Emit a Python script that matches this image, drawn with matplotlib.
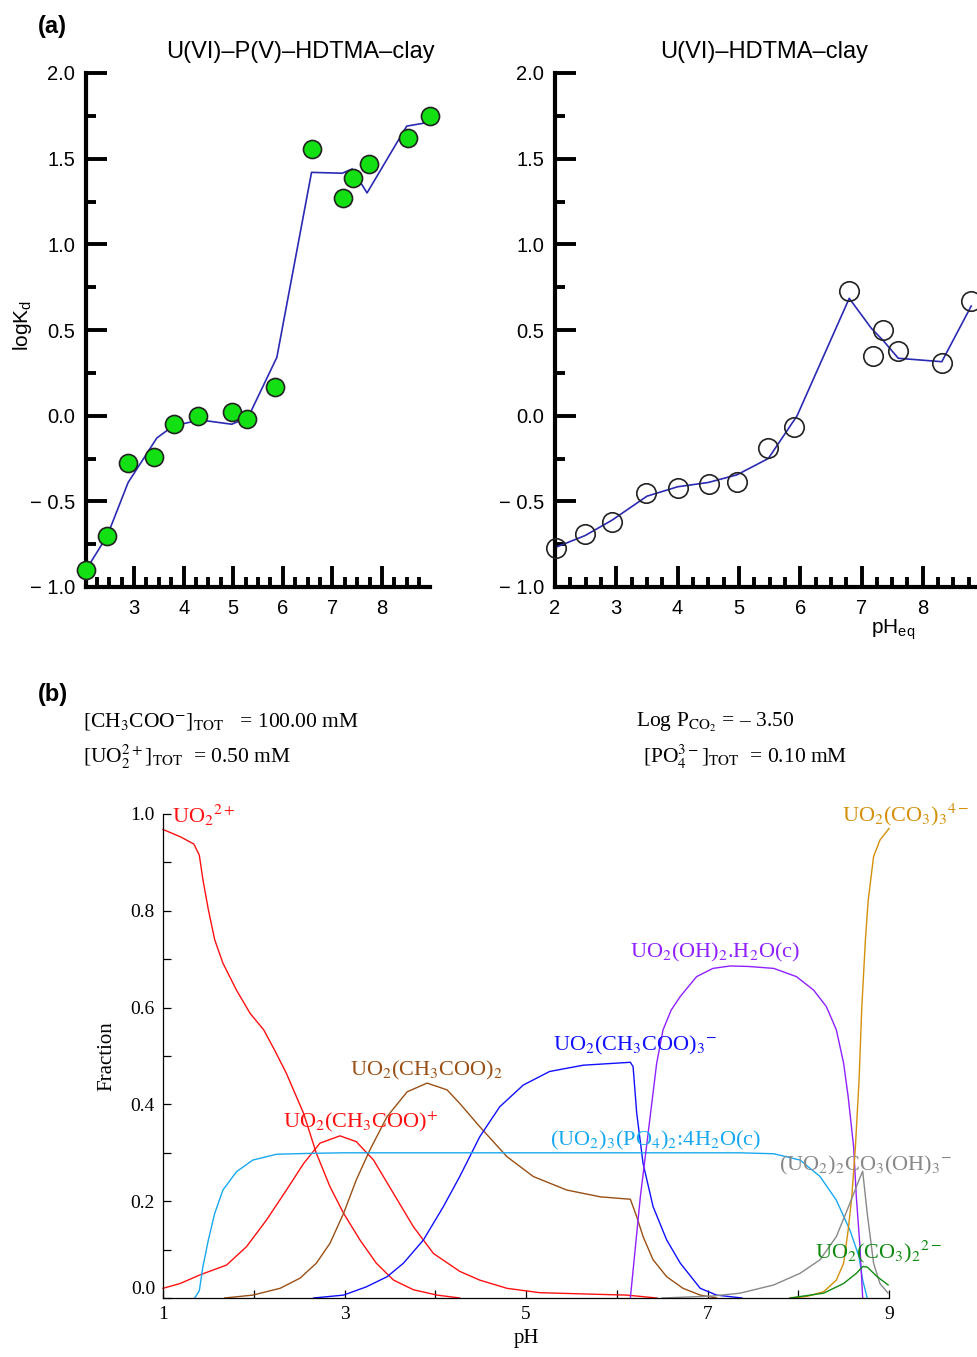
import matplotlib.pyplot as plt
import matplotlib.ticker as mticker

plt.rcParams['font.family'] = 'Liberation Sans'
plt.rcParams['mathtext.fontset'] = 'custom'
plt.rcParams['mathtext.rm'] = 'Liberation Sans'
plt.rcParams['mathtext.it'] = 'Liberation Sans:italic'

# ---------------- data (a) ----------------
ph_pv = [2.03, 2.46, 2.88, 3.40, 3.81, 4.29, 4.98, 5.27, 5.84, 6.58, 7.21, 7.42, 7.74, 8.53, 8.96]
kd_pv = [-0.90, -0.70, -0.275, -0.24, -0.05, 0.0, 0.02, -0.02, 0.165, 1.556, 1.27, 1.39, 1.47, 1.62, 1.75]
ph_pv_fit = [2.03, 2.46, 2.88, 3.46, 3.79, 4.33, 4.97, 5.30, 5.88, 6.58, 7.20, 7.40, 7.70, 8.50, 8.90]
kd_pv_fit = [-0.90, -0.70, -0.39, -0.13, -0.06, -0.025, -0.05, -0.01, 0.34, 1.42, 1.415, 1.44, 1.30, 1.69, 1.71]

ph_u = [2.02, 2.49, 2.93, 3.49, 4.00, 4.51, 4.97, 5.48, 5.90, 6.80, 7.35, 7.19, 7.60, 8.31, 8.79]
kd_u = [-0.77, -0.69, -0.62, -0.45, -0.42, -0.40, -0.39, -0.19, -0.065, 0.73, 0.50, 0.35, 0.38, 0.31, 0.67]
ph_u_fit = [2.00, 2.49, 2.93, 3.50, 4.00, 4.50, 4.97, 5.48, 5.95, 6.80, 7.16, 7.35, 7.60, 8.31, 8.79]
kd_u_fit = [-0.77, -0.70, -0.61, -0.47, -0.415, -0.39, -0.345, -0.25, 0.0, 0.685, 0.51, 0.44, 0.335, 0.315, 0.64]

# ---------------- data (b) ----------------
ph_uo2 = [1.0, 1.19, 1.34, 1.40, 1.44, 1.50, 1.57, 1.66, 1.81, 1.96, 2.11, 2.23, 2.36, 2.55, 2.69, 2.84,
          2.99, 3.17, 3.35, 3.54, 3.76, 4.02, 4.27]
f_uo2 = [0.968, 0.953, 0.938, 0.915, 0.864, 0.802, 0.740, 0.692, 0.636, 0.588, 0.554, 0.512, 0.464, 0.381,
         0.299, 0.230, 0.175, 0.120, 0.072, 0.037, 0.017, 0.006, 0.0]

ph_ac1 = [1.0, 1.19, 1.41, 1.70, 1.92, 2.14, 2.36, 2.55, 2.73, 2.95, 3.13, 3.32, 3.54, 3.76, 3.98, 4.27,
          4.49, 4.79, 5.15, 5.71, 6.11, 6.44]
f_ac1 = [0.020, 0.030, 0.048, 0.068, 0.106, 0.161, 0.223, 0.278, 0.320, 0.335, 0.323, 0.285, 0.216, 0.147,
         0.092, 0.055, 0.037, 0.020, 0.011, 0.008, 0.006, 0.0]

ph_ac2 = [1.68, 1.99, 2.29, 2.51, 2.69, 2.84, 2.99, 3.13, 3.28, 3.47, 3.69, 3.91, 4.13, 4.27, 4.49, 4.79,
          5.08, 5.45, 5.82, 6.15, 6.22, 6.29, 6.40, 6.55, 6.73, 6.92, 7.10]
f_ac2 = [0.0, 0.006, 0.020, 0.041, 0.072, 0.113, 0.175, 0.244, 0.306, 0.375, 0.426, 0.444, 0.430, 0.402,
         0.354, 0.292, 0.251, 0.223, 0.209, 0.204, 0.168, 0.127, 0.079, 0.044, 0.020, 0.006, 0.0]

ph_ac3 = [2.66, 2.99, 3.24, 3.47, 3.65, 3.87, 4.09, 4.27, 4.49, 4.71, 4.97, 5.26, 5.63, 6.15, 6.18, 6.22,
          6.29, 6.40, 6.55, 6.70, 6.92, 7.10, 7.38]
f_ac3 = [0.0, 0.006, 0.023, 0.044, 0.072, 0.120, 0.189, 0.251, 0.333, 0.395, 0.440, 0.468, 0.481, 0.487,
         0.478, 0.382, 0.278, 0.189, 0.120, 0.072, 0.020, 0.006, 0.0]

ph_po4 = [1.35, 1.40, 1.44, 1.50, 1.57, 1.66, 1.81, 1.99, 2.25, 2.66, 3.0, 5.0, 7.36, 7.73, 8.02, 8.24,
          8.42, 8.57, 8.67, 8.71, 8.76]
f_po4 = [0.0, 0.015, 0.065, 0.120, 0.175, 0.223, 0.261, 0.285, 0.297, 0.299, 0.300, 0.300, 0.300, 0.298,
         0.285, 0.251, 0.202, 0.140, 0.085, 0.037, 0.0]

ph_oh = [6.15, 6.26, 6.35, 6.44, 6.51, 6.60, 6.70, 6.88, 7.06, 7.25, 7.45, 7.73, 7.98, 8.17, 8.31, 8.42,
         8.50, 8.55, 8.61, 8.64, 8.68, 8.71]
f_oh = [0.0, 0.209, 0.347, 0.485, 0.554, 0.595, 0.623, 0.664, 0.681, 0.686, 0.685, 0.681, 0.664, 0.636,
        0.602, 0.554, 0.485, 0.416, 0.313, 0.209, 0.106, 0.0]

ph_co3_3 = [7.91, 8.09, 8.28, 8.42, 8.50, 8.55, 8.59, 8.63, 8.67, 8.70, 8.74, 8.77, 8.83, 8.90, 9.0]
f_co3_3 = [0.0, 0.003, 0.013, 0.037, 0.072, 0.140, 0.209, 0.313, 0.450, 0.600, 0.740, 0.820, 0.912, 0.946, 0.970]

ph_co3oh = [6.50, 7.05, 7.36, 7.73, 8.02, 8.24, 8.42, 8.57, 8.67, 8.71, 8.76, 8.83, 8.90, 8.99]
f_co3oh = [0.0, 0.004, 0.010, 0.027, 0.051, 0.079, 0.127, 0.196, 0.244, 0.262, 0.175, 0.072, 0.030, 0.010]

ph_co3_2 = [7.91, 8.28, 8.50, 8.64, 8.71, 8.76, 8.87, 8.99]
f_co3_2 = [0.0, 0.010, 0.030, 0.051, 0.065, 0.064, 0.044, 0.027]

W, H = 977, 1357
fig = plt.figure(figsize=(W / 100, H / 100), dpi=100)

dark_blue = '#2a2ab4'


def minus_fmt(v, pos):
    if v < -1e-9:
        return '− %.1f' % abs(v)
    return '%.1f' % abs(v)


def style_top(ax, xlim, majors):
    ax.set_xlim(*xlim)
    ax.set_ylim(-1.0, 2.0)
    for s in ['top', 'right']:
        ax.spines[s].set_visible(False)
    for s in ['left', 'bottom']:
        ax.spines[s].set_linewidth(3.0)
    ax.xaxis.set_major_locator(mticker.FixedLocator(majors))
    ax.xaxis.set_minor_locator(mticker.MultipleLocator(0.25))
    ax.yaxis.set_major_locator(mticker.MultipleLocator(0.5))
    ax.yaxis.set_minor_locator(mticker.MultipleLocator(0.25))
    ax.yaxis.set_major_formatter(mticker.FuncFormatter(minus_fmt))
    ax.tick_params(which='major', direction='in', length=15, width=2.8, labelsize=14.5, pad=8)
    ax.tick_params(which='minor', direction='in', length=7.5, width=2.8)
    ax.tick_params(axis='x', which='major', pad=9)


# left panel
ax1 = fig.add_axes([86 / W, 1 - 587 / H, 344 / W, 514 / H])
style_top(ax1, (2.03, 8.97), [3, 4, 5, 6, 7, 8])
ax1.plot(ph_pv_fit, kd_pv_fit, color=dark_blue, lw=1.2, zorder=2)
ax1.plot(ph_pv, kd_pv, 'o', ms=13, mfc='#12e012', mec='#222222', mew=1.2, clip_on=False, zorder=3)
fig.text(300 / W, 1 - 52 / H, 'U(VI)–P(V)–HDTMA–clay', ha='center', va='center', fontsize=17)

# right panel
ax2 = fig.add_axes([555 / W, 1 - 587 / H, 6.9 * 61.3 / W, 514 / H])
style_top(ax2, (2.0, 8.9), [2, 3, 4, 5, 6, 7, 8])
ax2.plot(ph_u_fit, kd_u_fit, color=dark_blue, lw=1.2, zorder=2)
ax2.plot(ph_u, kd_u, 'o', ms=14, mfc='none', mec='#222222', mew=1.2, clip_on=False, zorder=3)
fig.text(764 / W, 1 - 52 / H, 'U(VI)–HDTMA–clay', ha='center', va='center', fontsize=17)

fig.text(38 / W, 1 - 27 / H, '(a)', fontsize=17, fontweight='bold', va='center', ha='left')
fig.text(22 / W, 1 - 325 / H, r'logK$_\mathrm{d}$', fontsize=15, rotation=90, ha='center', va='center')
fig.text(893 / W, 1 - 630 / H, r'pH$_\mathrm{eq}$', fontsize=15, ha='center', va='center')

# ---------------- panel (b) ----------------
serif = 'Liberation Serif'
fig.text(38 / W, 1 - 695 / H, '(b)', fontsize=17, fontweight='bold', va='center', ha='left')
hdr = dict(fontsize=15.5, family=serif, math_fontfamily='stix', va='center', ha='left')
fig.text(83 / W, 1 - 722 / H, r'[CH$_3$COO$^{-}$]$_{\mathrm{TOT}}$   = 100.00 mM', **hdr)
fig.text(83 / W, 1 - 757 / H, r'[UO$_2^{2+}$]$_{\mathrm{TOT}}$  = 0.50 mM', **hdr)
fig.text(636 / W, 1 - 722 / H, r'Log P$_{\mathrm{CO_2}}$ = – 3.50', **hdr)
fig.text(643 / W, 1 - 757 / H, r'[PO$_4^{3-}$]$_{\mathrm{TOT}}$  = 0.10 mM', **hdr)

ax3 = fig.add_axes([163 / W, 1 - 1298 / H, 726 / W, 484 / H])
ax3.set_xlim(1, 9)
ax3.set_ylim(0, 1.0)
for s in ['top', 'right']:
    ax3.spines[s].set_visible(False)
for s in ['left', 'bottom']:
    ax3.spines[s].set_linewidth(0.9)
ax3.xaxis.set_major_locator(mticker.FixedLocator([1, 3, 5, 7, 9]))
ax3.xaxis.set_minor_locator(mticker.FixedLocator([2, 4, 6, 8]))
ax3.yaxis.set_major_locator(mticker.MultipleLocator(0.2))
ax3.yaxis.set_minor_locator(mticker.MultipleLocator(0.1))
ax3.yaxis.set_major_formatter(mticker.FuncFormatter(lambda v, p: '' if abs(v) < 1e-9 else '%.1f' % v))
ax3.tick_params(which='both', direction='in', length=6, width=0.9, labelsize=14, pad=6)
for lab in ax3.get_xticklabels() + ax3.get_yticklabels():
    lab.set_family(serif)
ax3.set_xlabel('pH', family=serif, fontsize=15, labelpad=4)
ax3.set_ylabel('Fraction', family=serif, fontsize=15, labelpad=10)
fig.text(155 / W, 1 - 1289 / H, '0.0', family=serif, fontsize=14, ha='right', va='center')

c_red = '#ff1010'
c_brown = '#9a4f14'
c_blue = '#1010ff'
c_lblue = '#18a8f0'
c_violet = '#9020ff'
c_gold = '#d4900a'
c_gray = '#888888'
c_green = '#108a10'

lw = 1.0
ax3.plot(ph_uo2, f_uo2, color=c_red, lw=lw, clip_on=False)
ax3.plot(ph_ac1, f_ac1, color=c_red, lw=lw, clip_on=False)
ax3.plot(ph_ac2, f_ac2, color=c_brown, lw=lw, clip_on=False)
ax3.plot(ph_ac3, f_ac3, color=c_blue, lw=lw, clip_on=False)
ax3.plot(ph_po4, f_po4, color=c_lblue, lw=lw, clip_on=False)
ax3.plot(ph_oh, f_oh, color=c_violet, lw=lw, clip_on=False)
ax3.plot(ph_co3_3, f_co3_3, color=c_gold, lw=lw, clip_on=False)
ax3.plot(ph_co3oh, f_co3oh, color=c_gray, lw=lw, clip_on=False)
ax3.plot(ph_co3_2, f_co3_2, color=c_green, lw=lw, clip_on=False)

lab = dict(fontsize=16, family=serif, math_fontfamily='stix', va='center', ha='left')


def put(x, y, s, c):
    fig.text(x / W, 1 - y / H, s, color=c, **lab)


put(172, 815, r'UO$_2$$^{2+}$', c_red)
put(350, 1070, r'UO$_2$(CH$_3$COO)$_2$', c_brown)
put(283, 1122, r'UO$_2$(CH$_3$COO)$^{+}$', c_red)
put(553, 1045, r'UO$_2$(CH$_3$COO)$_3$$^{-}$', c_blue)
put(630, 952, r'UO$_2$(OH)$_2$.H$_2$O(c)', c_violet)
put(842, 815, r'UO$_2$(CO$_3$)$_3$$^{4-}$', c_gold)
put(550, 1140, r'(UO$_2$)$_3$(PO$_4$)$_2$:4H$_2$O(c)', c_lblue)
put(779, 1165, r'(UO$_2$)$_2$CO$_3$(OH)$_3$$^{-}$', c_gray)
put(815, 1252, r'UO$_2$(CO$_3$)$_2$$^{2-}$', c_green)

fig.savefig('out.png', dpi=100)
